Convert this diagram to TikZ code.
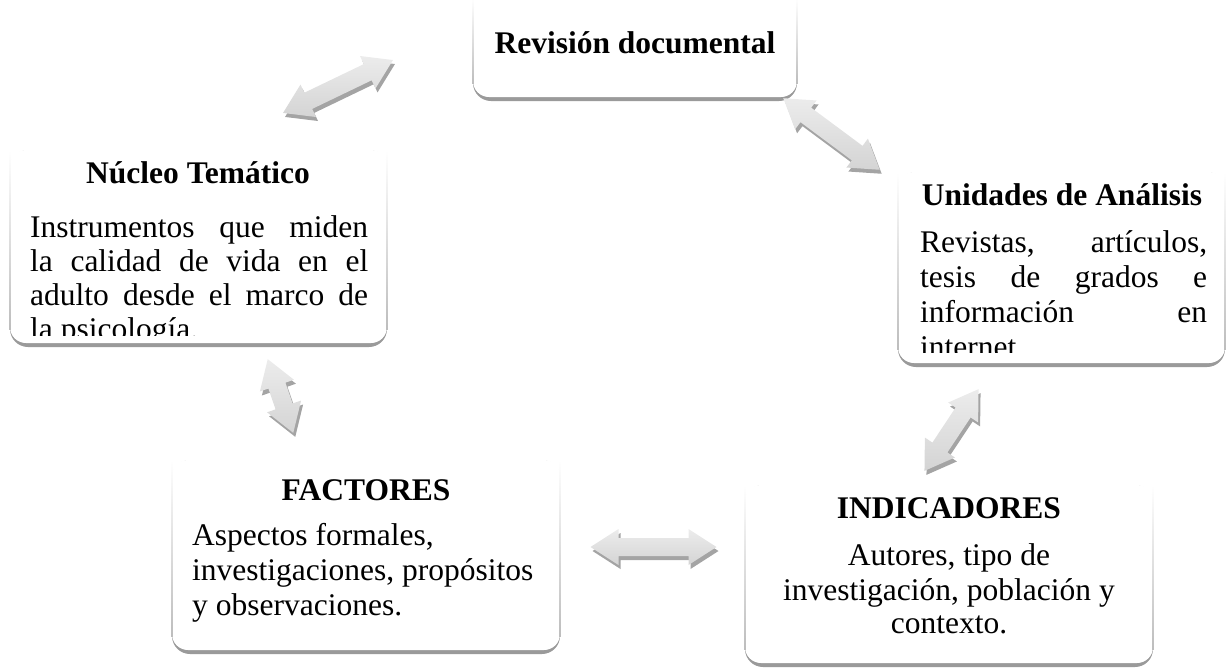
\documentclass[tikz,border=0pt]{standalone}
\usepackage{fontspec}
\setmainfont{Liberation Serif}
\definecolor{shadowc}{HTML}{9A9A9A}
\definecolor{edgec}{HTML}{BDBDBD}
\definecolor{arrA}{HTML}{ECECEC}
\definecolor{arrB}{HTML}{D4D4D4}
\definecolor{arrS}{HTML}{A4A4A4}
\tikzset{
  titletext/.style={font=\fontsize{31.5}{35}\selectfont\bfseries, inner sep=0pt, anchor=base},
  bodytext/.style={font=\fontsize{31.5}{35}\selectfont, inner sep=0pt, anchor=base west},
  bodyctext/.style={font=\fontsize{31.5}{35}\selectfont, inner sep=0pt, anchor=base},
}
% paper-like box: x1 y1 x2 y2 (pixel coordinates, y downwards)
\newcommand\paperbox[4]{%
  \fill[shadowc, rounded corners=18pt] (#1,#2) rectangle (#3,{#4+4});
  \fill[white, rounded corners=16pt] (#1,#2) rectangle (#3,#4);
  \shade[top color=white, bottom color=edgec] ({#1-0.8},#2) rectangle ({#1+0.8},{#4-14});
  \shade[top color=white, bottom color=edgec] ({#3-0.8},#2) rectangle ({#3+0.8},{#4-14});
}
% double block arrow: mx my angle halflength
\newcommand\blockarrow[4]{%
  \begin{scope}[shift={({#1+2},{#2+4})}, rotate=#3]
    \fill[arrS] (-#4,0) -- ({-#4+28},18) -- ({-#4+28},9) -- ({#4-28},9) -- ({#4-28},18) -- (#4,0)
      -- ({#4-28},-18) -- ({#4-28},-9) -- ({-#4+28},-9) -- ({-#4+28},-18) -- cycle;
  \end{scope}
  \begin{scope}[shift={(#1,#2)}, rotate=#3]
    \shade[top color=arrA, bottom color=arrB] (-#4,0) -- ({-#4+28},18) -- ({-#4+28},9) -- ({#4-28},9) -- ({#4-28},18) -- (#4,0)
      -- ({#4-28},-18) -- ({#4-28},-9) -- ({-#4+28},-9) -- ({-#4+28},-18) -- cycle;
  \end{scope}
}
\begin{document}
\begin{tikzpicture}[x=1pt, y=-1pt]
\path[use as bounding box] (0,0) rectangle (1228,667);

% boxes
\paperbox{473}{-2}{797}{97}
\paperbox{10}{150}{387}{343}
\paperbox{898}{172}{1225}{363}
\paperbox{172}{460}{560}{650}
\paperbox{745}{485}{1153}{663}

% Revisión documental
\node[titletext] (rev) at (635,53) {Revisión documental};

% Núcleo Temático
\node[titletext] (nuct) at (198,183) {Núcleo Temático};
\begin{scope}
  \clip (10,150) rectangle (387,335);
  \node[bodytext] (nuc1) at (30,237) {\makebox[338pt][s]{Instrumentos que miden}};
  \node[bodytext] (nuc2) at (30,271) {\makebox[338pt][s]{la calidad de vida en el}};
  \node[bodytext] (nuc3) at (30,305) {\makebox[338pt][s]{adulto desde el marco de}};
  \node[bodytext] (nuc4) at (30,339) {la psicología.};
\end{scope}

% Unidades de Análisis
\node[titletext] (unit) at (1062,205) {Unidades de Análisis};
\begin{scope}
  \clip (898,172) rectangle (1225,352);
  \node[bodytext] (uni1) at (920,252) {\makebox[287pt][s]{Revistas, artículos,}};
  \node[bodytext] (uni2) at (920,287) {\makebox[287pt][s]{tesis de grados e}};
  \node[bodytext] (uni3) at (920,322) {\makebox[287pt][s]{información en}};
  \node[bodytext] (uni4) at (920,357) {internet.};
\end{scope}

% FACTORES
\node[titletext] (fact) at (366,500) {FACTORES};
\node[bodytext] (fac1) at (192,545) {Aspectos formales,};
\node[bodytext] (fac2) at (192,580) {investigaciones, propósitos};
\node[bodytext] (fac3) at (192,615) {y observaciones.};

% INDICADORES
\node[titletext] (indt) at (949,518) {INDICADORES};
\node[bodyctext] (ind1) at (949,565) {Autores, tipo de};
\node[bodyctext] (ind2) at (949,600) {investigación, población y};
\node[bodyctext] (ind3) at (949,633) {contexto.};

% block arrows
\blockarrow{338}{86.5}{25.7}{61}
\blockarrow{831.5}{134}{-36.6}{60}
\blockarrow{280.5}{396}{-70.9}{39}
\blockarrow{951.5}{430}{56.5}{49}
\blockarrow{653.5}{547}{0}{63}
\end{tikzpicture}
\end{document}
